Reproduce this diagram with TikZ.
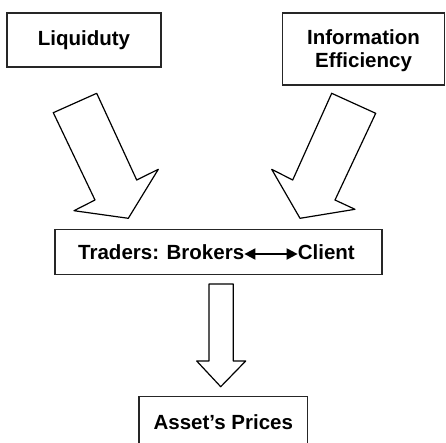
\documentclass[tikz,border=0pt]{standalone}
\usepackage{fontspec}
\setmainfont{Liberation Sans}
\usetikzlibrary{arrows.meta}
\begin{document}
\begin{tikzpicture}[x=1pt,y=-1pt,
  txt/.style={font=\fontsize{20.5}{23}\selectfont\bfseries, inner sep=0pt},
  box/.style={draw=black!85, line width=1.1pt, inner sep=0pt},
  blockarrow/.style={draw=black, line width=1.2pt, fill=white, line join=round}]
  \useasboundingbox (0,0) rectangle (446,442);

  % source boxes
  \node[box, minimum width=154pt, minimum height=54pt] (liq) at (84,40) {};
  \node[txt] at (liq.center) {\vphantom{L}Liquiduty};
  \node[box, minimum width=162pt, minimum height=72pt] (info) at (363.5,49) {};
  \node[txt, align=center] at (363.5,51) {Information\\Efficiency};

  % traders box with its two-way arrow
  \node[box, minimum width=327pt, minimum height=45pt] (trade) at (218.5,251.8) {};
  \node[txt, anchor=base] (brok) at (161.2,259.5) {Traders: Brokers};
  \node[txt, anchor=base] (cli) at (326.3,259.5) {Client};
  \draw[line width=2pt, {Triangle[length=11pt,width=11pt]}-{Triangle[length=11pt,width=11pt]}]
    (brok.east |- 0,254) -- (cli.west |- 0,254);

  % result box (runs off the lower edge)
  \node[box, minimum width=168.7pt, minimum height=56pt] (asset) at (223.3,424.7) {};
  \node[txt, anchor=base] at (223.3,429.5) {Asset's Prices};

  % block arrows
  \draw[blockarrow] (53.3,112.7) -- (96.7,93.3) -- (136.7,180) -- (158.3,169.3)
    -- (128.3,218.3) -- (74,210.7) -- (95,200) -- cycle;
  \draw[blockarrow] (331.7,93.3) -- (375.7,113.3) -- (335,200) -- (355,209.3)
    -- (300,218.3) -- (271.7,169.3) -- (292.7,180) -- cycle;
  \draw[blockarrow] (209,284) -- (233.3,284) -- (233.3,361) -- (245.7,361)
    -- (220.7,386.7) -- (196.7,361) -- (209,361) -- cycle;
\end{tikzpicture}
\end{document}
